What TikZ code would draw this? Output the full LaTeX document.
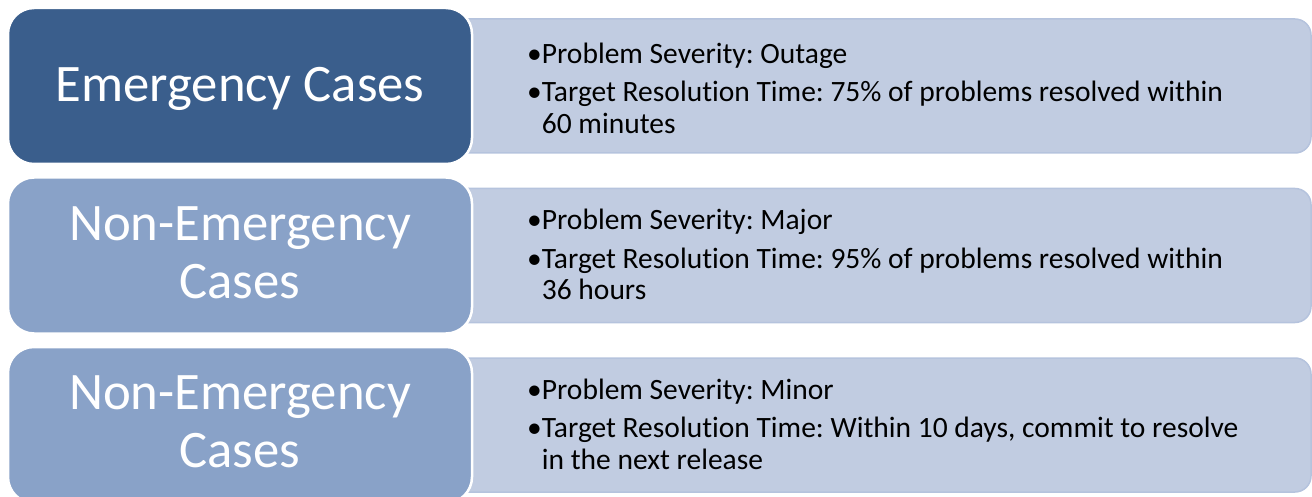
\documentclass[tikz,border=0pt]{standalone}
\usepackage{fontspec}
\setmainfont{Carlito}[Ligatures=NoCommon]
\frenchspacing
\definecolor{darkcase}{RGB}{58,94,140}
\definecolor{lightcase}{RGB}{137,162,200}
\definecolor{infofill}{RGB}{193,204,225}
\definecolor{infoline}{RGB}{181,195,221}
\begin{document}
\begin{tikzpicture}[x=1pt,y=-1pt,
  casebox/.style={draw=white,line width=2.5pt,rounded corners=26pt,minimum width=464pt,minimum height=156pt,inner sep=0pt},
  casetext/.style={text=white,align=center,inner sep=0pt,font=\fontsize{52.7}{58}\selectfont},
  infobox/.style={draw=infoline,line width=1.5pt,fill=infofill,rounded corners=16pt,minimum width=871pt,minimum height=134pt,inner sep=0pt},
  infotext/.style={anchor=west,align=left,inner sep=0pt,font=\fontsize{29.5}{31.3}\selectfont}]
\useasboundingbox (0,0) rectangle (1312,497);
\clip (0,0) rectangle (1312,497);

% right hand boxes
\node[infobox] (info1) at (875.5,86) {};
\node[infobox] (info2) at (875.5,255.5) {};
\node[infobox] (info3) at (875.5,425) {};

% left hand boxes
\node[casebox,fill=darkcase] (case1) at (240,86) {};
\node[casebox,fill=lightcase] (case2) at (240,255.5) {};
\node[casebox,fill=lightcase] (case3) at (240,425) {};
\node[casetext] (title1) at (240,88.5) {Emergency Cases};
\node[casetext] (title2) at (240,252.5) {Non-Emergency\\Cases};
\node[casetext] (title3) at (240,422) {Non-Emergency\\Cases};

% texts
\node[infotext] (text1) at (527,88) {\textbullet Problem Severity: Outage\\[7.4pt]
  \textbullet Target Resolution Time: 75\% of problems resolved within\\
  \hphantom{\textbullet}60 minutes};
\node[infotext] (text2) at (527,254.5) {\textbullet Problem Severity: Major\\[7.4pt]
  \textbullet Target Resolution Time: 95\% of problems resolved within\\
  \hphantom{\textbullet}36 hours};
\node[infotext] (text3) at (527,424) {\textbullet Problem Severity: Minor\\[7.4pt]
  \textbullet Target Resolution Time: Within 10 days, commit to resolve\\
  \hphantom{\textbullet}in the next release};
\end{tikzpicture}
\end{document}
